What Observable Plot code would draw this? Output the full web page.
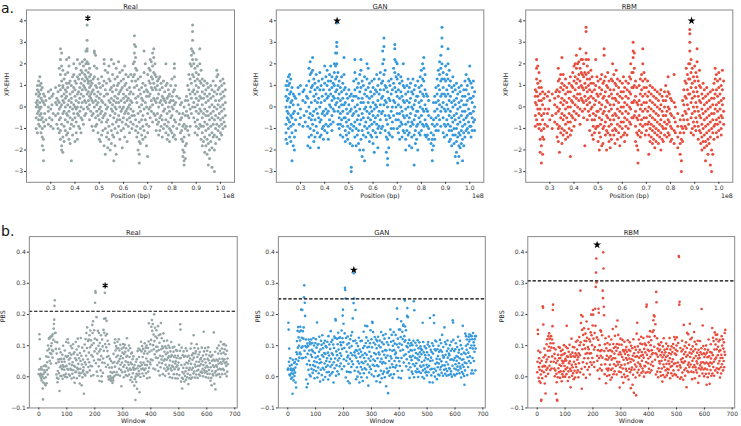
<!DOCTYPE html>
<html><head><meta charset="utf-8">
<script src="https://cdn.jsdelivr.net/npm/d3@7"></script>
<script src="https://cdn.jsdelivr.net/npm/@observablehq/plot@0.6"></script>
<style>
body{margin:0;background:#fff;}
#wrap{position:relative;width:741px;height:426px;overflow:hidden;font-family:"DejaVu Sans",sans-serif;background:#fff;}
.p{position:absolute;}
.lab{position:absolute;font-size:14px;color:#111;line-height:17px;font-family:"DejaVu Sans",sans-serif;}
</style></head><body><div id="wrap"></div>
<script>
// ---------- DATA ----------
const panelTitles = ["Real", "GAN", "RBM"];
const panelColors = ["#95a5a6", "#3498db", "#e74c3c"];
const posTicks = [0.3e8, 0.4e8, 0.5e8, 0.6e8, 0.7e8, 0.8e8, 0.9e8, 1.0e8];
const xpTicks = [-3, -2, -1, 0, 1, 2, 3, 4];
const windowTicks = [0, 100, 200, 300, 400, 500, 600, 700];
const pbsTicks = [-0.1, 0.0, 0.1, 0.2, 0.3, 0.4];
const pbsThresholds = [0.2106, 0.250, 0.308];
// star markers: [x, y]
const xpStars = [[0.453e8, 4.12], [0.4515e8, 4.0], [0.887e8, 4.0]];
const pbsStars = [[237, 0.293], [237, 0.343], [215, 0.4235]];

// XP-EHH rows: [position (Mb), values x10 ...]
const realXP = [
[24.0,-5,2,6,-10,0],[24.5,3,8,-3,-12,10,1],[25.0,12,5,-2,-8,0,7,-6],[25.5,14,10,-4,2,6,-9,-1],
[26.0,11,0,-6,4,-12,8,-3],[26.5,-14,-18,-5,3,9,-10],[27.0,-25,-20,-7,2,-15,6],[27.5,5,-3,-9,1],
[28.0,-6,3],[29.0,7,-2,-8,0],[29.5,4,-5],[30.0,8,-9,-1],[30.5,1,-6,5],[31.0,-3,6,-10],[32.0,9,-4,2],
[32.5,1,-8,4],[33.0,-3,7,-10,3],[33.5,10,-6,-12,18,2,-1],[34.0,27,22,15,-5,-11,8,0,-15],
[34.5,25,19,12,-8,-18,-20,5,1],[35.0,17,-21,-14,9,-3,3,10],[35.5,13,-9,6,-2,-16,2],[36.0,8,-11,0,4,-6,15],
[36.5,22,11,-3,-13,5,7],[37.0,16,-7,1,-12,9,-4],[37.5,23,19,-15,3,-2,11],[38.0,6,-10,12,0,-17,-5],
[38.5,-25,2,-8,10,4],[39.0,14,-6,7,-1,-13],[39.5,20,9,-3,-9,1,15],[40.0,12,-16,5,0,-5,8],
[40.5,18,-12,3,11,-7,-1],[41.0,22,14,6,-3,-15,0],[41.5,7,-9,13,2,-4],[42.0,20,15,9,4,-2,-10],
[42.5,17,11,-5,6,0,-12],[43.0,21,13,8,2,-6,16],[43.5,19,10,5,-1,-8],[44.0,22,15,9,3,12,-4],
[44.5,26,20,14,8,2,-3,17],[45.0,38,31,27,26,21,13,6,0],[45.5,20,16,11,7,3,12,-1],[46.0,18,9,5,14,1,-6],
[46.5,15,10,4,6,-2,12],[47.0,11,7,3,-4,-9],[47.5,13,2,-3,8,-11],[48.0,26,25,19,14,6,0],
[48.5,24,10,-5,3,-9],[49.0,18,5,-2,-8,9,1],[49.5,7,-4,-12,2,13],[50.0,4,-6,11,-1,-15],
[50.5,9,-3,-16,0,6],[51.0,14,3,-7,-2,-13],[51.5,10,-5,2,-11],[52.0,22,20,12,-18,-4,5],
[52.5,17,8,-22,-10,1,-3],[53.0,11,-1,-14,6,-7],[53.5,16,6,-6,0,-19,-12],[54.0,19,13,3,-9,-15],
[54.5,12,2,-4,8,-20],[55.0,22,9,-1,-11,4,-17],[55.5,15,7,-2,-8,1,-13],[56.0,20,10,3,-5,-14,-25],
[56.5,13,5,-3,-10,-18,0],[57.0,18,8,-1,-7,2,-22],[57.5,14,4,-6,-12,10],[58.0,21,11,2,-4,-9,6],
[58.5,16,7,0,-6,-15],[59.0,12,3,-2,-11,8],[59.5,17,9,-1,-7,-19],[60.0,13,6,0,-5,-10,4],
[60.5,19,10,2,-3,-14],[61.0,11,5,-2,-8,15],[61.5,8,-1,-6,-16,3],[62.0,14,4,-3,-9,0],
[62.5,9,1,-5,-12,6],[63.0,15,7,-1,-7,3],[63.5,12,2,-4,-10],[64.0,20,14,6,-2,-8],
[64.5,33,29,25,21,15,9,-4],[65.0,28,23,18,12,4,-6,-11],[65.5,17,10,2,-9,-14],[66.0,13,5,-3,-12,-20],
[66.5,-26,-22,-16,-7,0,8],[67.0,14,6,-2,-10,-17],[67.5,9,1,-6,-13,4],[68.0,11,3,-4,-9,-15],
[68.5,26,16,7,-1,-11],[69.0,20,10,2,-6,-14],[69.5,8,0,-8,-18,5],[70.0,15,7,-3,-12,-23],
[70.5,12,5,-1,-9,18],[71.0,17,11,6,0,-5,22],[71.5,21,14,9,3,-2],[72.0,25,19,13,8,1,-7],
[72.5,27,23,16,11,4,-3],[73.0,20,15,9,3,-4],[73.5,14,8,2,-6,-11],[74.0,10,4,-3,-8,12],
[74.5,13,6,0,-7,-13],[75.0,8,2,-5,-11,14],[75.5,11,3,-4,-9],[76.0,9,1,-6,-14,5],
[76.5,12,4,-2,-10],[77.0,7,-1,-8,3],[77.5,20,10,2,-6,-12],[78.0,11,4,-3,-9,-15],
[78.5,8,0,-7,-13,5],[79.0,6,-2,-10,-16,2],[79.5,10,3,-5,-11],[80.0,13,5,-4,-12,0],
[80.5,7,-1,-9,-14,3],[81.0,20,18,14,8,1,-6,-13],[81.5,10,2,-7,-15],[82.0,5,-2,-10],
[83.0,4,-3,-8],[83.5,1,-6,-12],[84.0,-5,-11,-15,2],[84.5,-9,-16,-20,-23,-3],
[85.0,-14,-21,-25,-27,-8,0],[85.5,-10,-18,-24,-4,3],[86.0,5,-2,-9,-17],[86.5,10,3,-4,-11],
[87.0,15,8,1,-5,-13],[87.5,20,13,6,-1,-9],[88.0,27,24,19,11,4,-3],[88.5,38,35,31,26,22,15,7,0],
[89.0,25,20,14,8,2,-5],[89.5,18,12,6,0,-7,-12],[90.0,22,16,10,4,-2,-9],[90.5,19,13,7,1,-6,-13],
[91.0,15,9,3,-3,-10],[91.5,27,20,12,5,-1,-8],[92.0,17,11,4,-2,-9,-15],[92.5,13,7,1,-5,-12,-18],
[93.0,10,4,-3,-9,-16],[93.5,12,6,-1,-7,-14,-21],[94.0,8,2,-4,-11,-18],[94.5,11,5,-2,-8,-15,-22],
[95.0,9,3,-4,-10,-17,-27],[95.5,6,0,-6,-13,-20,-24],[96.0,10,4,-3,-9,-16],[96.5,8,1,-5,-12,-19,-28],
[97.0,12,5,-2,-8,-14],[97.5,7,0,-6,-13,-30,-20],[98.0,10,3,-4,-10,-17],[98.5,17,14,6,-1,-8,-14],
[99.0,15,8,1,-5,-11],[99.5,9,3,-3,-9,-15],[100.0,12,6,0,-6,-12],[100.5,10,4,-2,-8,-13],
[101.0,13,7,1,-5,-10],[101.5,11,5,-1,-7],[102.0,8,2,-4,-9]
];
const ganXP = [
[24.0,-15,-8,0,5,10,-12],[24.5,-17,-5,3,8,-2,12],[25.0,10,4,-3,-10,14,-6],[25.5,15,11,6,0,-7,-14],
[26.0,13,7,2,-4,-9,-16],[26.5,-25,-12,-5,3,9],[27.0,-18,-8,1,6,-3],[27.5,-20,-14,-2,5],
[28.0,4,-6,-11],[29.0,9,-3,1],[29.5,-8,6],[30.0,10,-1,-5],[31.0,7,-9,3],[31.5,-4,8],[32.0,2,-7],
[32.5,10,-2,5],[33.0,-18,-9,4],[33.5,18,12,-5,0,-14],[34.0,21,15,7,-3,-10,-19],[34.5,16,9,2,-6,-13],
[35.0,23,17,10,-4,-8],[35.5,13,5,-2,-11,-16],[36.0,11,3,-6,-14,8],[36.5,15,6,-1,-9],
[37.0,9,-3,-12,2],[37.5,12,4,-5,-19],[38.0,16,8,0,-7,-14],[38.5,10,2,-6,-13],[39.0,13,5,-3,-10],
[39.5,8,-2,-9,-15],[40.0,19,11,3,-4,-11],[40.5,14,6,-1,-8],[41.0,17,10,4,-3,-12],
[41.5,12,5,-2,-9,-15],[42.0,15,8,1,-6],[42.5,19,12,6,0,-8],[43.0,14,9,3,-4,-11],[43.5,11,5,-1,-7],
[44.0,20,16,10,4,-2],[44.5,25,19,13,7,1],[45.0,39,30,28,25,20,14,8,2],[45.5,16,10,4,-2,-8],
[46.0,12,6,0,-5,-10],[46.5,9,3,-3,-8,-13],[47.0,14,7,1,-6],[47.5,11,4,-2,-9,-14],
[48.0,23,15,8,1,-5],[48.5,9,2,-5,-11,-16],[49.0,6,-1,-7,-13],[49.5,4,-3,-9,-15],[50.0,8,1,-6,-12],
[50.5,5,-2,-10,-17],[51.0,-28,-30,-8,-1,6],[51.5,3,-4,-11,-18],[52.0,12,5,-3,-9],
[52.5,22,16,8,0,-7,-14],[53.0,13,5,-2,-10,-18],[53.5,9,1,-6,-13],[54.0,11,4,-4,-11,-17],
[54.5,15,7,-1,-8,-20],[55.0,22,17,9,2,-6,-15],[55.5,12,4,-3,-11,-23],[56.0,10,2,-5,-13,-20],
[56.5,14,6,-1,-9,-25],[57.0,8,0,-7,-14],[57.5,20,13,5,-2,-10],[58.0,18,9,2,-5,-12],
[58.5,11,4,-3,-9,-16],[59.0,7,0,-6,-13],[59.5,12,5,-2,-8,-14],[60.0,9,2,-4,-11,-17],
[60.5,13,6,-1,-7,-21],[61.0,8,1,-5,-12],[61.5,15,7,0,-8,-14],[62.0,10,3,-4,-10,-19],
[62.5,13,6,-2,-9],[63.0,16,8,1,-6,-12],[63.5,11,4,-3,-10],[64.0,26,20,12,5,-2,-9],
[64.5,32,28,22,15,8,1],[65.0,17,10,3,-4,-11],[65.5,9,2,-6,-14,-21],[66.0,-27,-24,-15,-8,0,7],
[66.5,12,4,-4,-12,-19],[67.0,10,3,-5,-13],[67.5,13,6,-2,-10],[68.0,8,0,-7,-14],
[68.5,18,11,3,-4,-10],[69.0,29,27,22,16,9,2],[69.5,21,14,7,0,-6],[70.0,20,13,5,-3,-10],
[70.5,15,8,1,-6,-12],[71.0,11,4,-3,-9,-15],[71.5,14,7,0,-7],[72.0,12,5,-2,-8,-14],
[72.5,20,10,3,-4,-11],[73.0,9,2,-5,-12],[73.5,6,-1,-8,-15,-20],[74.0,10,3,-4,-11],
[74.5,13,7,0,-7,-13],[75.0,9,2,-5,-12,-18],[75.5,11,4,-3,-9],[76.0,7,0,-7,-14,-19],
[76.5,13,6,-1,-8],[77.0,8,1,-6,-13,-27],[77.5,10,3,-4,-11,-17],[78.0,5,-2,-9,-15],
[78.5,12,5,-2,-8,-20],[79.0,9,2,-5,-12],[79.5,14,7,0,-7,-13],[80.0,17,10,3,-4,-11],
[80.5,20,13,6,-1,-8],[81.0,23,18,12,5,-2,-9],[81.5,15,8,1,-6,-13],[82.0,6,-1,-8,-14],
[82.5,5,-2,-9,-13],[83.0,3,-4,-10,-15],[84.0,-5,-12,-17],[84.5,-8,-15,-25,-20],[85.0,2,-6,-13,-18],
[85.5,5,-2,-9,-15],[86.0,9,2,-5,-11],[86.5,13,6,-1,-8],[87.0,17,10,3,-4,-11],[87.5,21,15,8,1,-6],
[88.0,24,18,12,5,-2,-9],[88.5,37,32,28,20,13,6,0],[89.0,16,9,2,-5,-12],[89.5,13,6,-1,-8,-14],
[90.0,19,12,5,-2,-9],[90.5,15,8,1,-6,-13],[91.0,27,20,13,6,-1,-8],[91.5,17,10,3,-4,-11,-16],
[92.0,12,5,-2,-9,-15],[92.5,9,2,-5,-11,-18],[93.0,14,7,0,-7,-13],[93.5,10,3,-4,-10,-17],
[94.0,8,1,-6,-13,-23],[94.5,11,4,-3,-10,-16,-21],[95.0,6,-1,-8,-14,-26],[95.5,9,2,-5,-12,-18,-23],
[96.0,7,0,-7,-13,-19],[96.5,10,3,-4,-11,-17],[97.0,5,-2,-9,-15,-25],[97.5,8,1,-6,-12,-18],
[98.0,12,5,-2,-8,-14],[98.5,15,8,1,-5,-11],[99.0,10,3,-4,-10],[99.5,13,6,-1,-7,-12],
[100.0,19,12,4,-3,-9],[100.5,11,4,-3,-9,-14],[101.0,9,2,-5,-11],[101.5,12,5,-2,-7],[102.0,7,0,-6,-11]
];
const rbmXP = [
[24.0,8,2,-4,-9,5],[24.5,22,18,13,7,1,-6],[25.0,19,11,5,-1,-8],[25.5,16,9,3,-3,-10],
[26.0,12,6,-1,-8,-15,-21],[26.5,-26,-18,-11,-4,3,9],[27.0,-22,-14,-6,1,7],[27.5,4,-3,-10,-15],
[28.0,6,-1,-8],[29.0,5,-3,-9],[29.5,7,-1],[30.0,-6,3],[31.0,6,-4,-10],[32.0,4,-7,1],[32.5,-3,7],
[33.0,8,0,-8,-14],[33.5,18,12,5,-2,-10,-16],[34.0,13,7,-1,-9,-21],[34.5,15,9,2,-5,-12],
[35.0,23,11,4,-3,-10,-17],[35.5,15,8,1,-6,-13],[36.0,10,3,-4,-11],[36.5,13,6,-1,-8,-15],
[37.0,9,2,-5,-12],[37.5,7,0,-7,-14],[38.0,11,4,-3,-10],[38.5,14,7,0,-7,-13,-23],[39.0,10,3,-4,-11],
[39.5,16,9,2,-5],[40.0,19,12,5,-2,-9],[40.5,20,14,8,1,-6],[41.0,24,18,11,4,-3],[41.5,20,13,6,0],
[42.0,21,15,9,3,-4],[42.5,27,18,12,6,-1,-8],[43.0,22,16,10,4],[43.5,22,15,9,3,-2],
[44.0,20,14,8,2,-5],[44.5,16,11,5,-1,-18],[45.0,37,35,25,22,15,9,3],[45.5,19,13,7,1,-6],
[46.0,22,16,10,4,-2],[46.5,13,8,2,-4,-11],[47.0,17,11,5,-1],[47.5,14,7,0,-6,-13],
[48.0,11,4,-3,-9,-15],[48.5,8,1,-6,-12],[49.0,22,10,3,-4,-10],[49.5,14,6,-2,-9],
[50.0,12,5,-2,-9,-16],[50.5,9,2,-5,-12,-20],[51.0,13,6,-1,-8,-14],[51.5,15,8,1,-6,-18],
[52.0,11,4,-3,-10,-17],[52.5,27,24,12,5,-2,-9],[53.0,14,7,0,-7,-13],[53.5,10,3,-4,-11,-20],
[54.0,16,9,2,-5,-12],[54.5,12,5,-2,-9,-16],[55.0,8,1,-6,-13,-19],[55.5,13,6,-1,-8,-15],
[56.0,20,12,4,-4,-11],[56.5,15,8,1,-6,-13],[57.0,11,4,-3,-10,-17],[57.5,17,10,3,-4,-11],
[58.0,13,6,-1,-8,-15],[58.5,9,2,-5,-12],[59.0,12,5,-2,-9,-18],[59.5,7,0,-7,-14],
[60.0,11,4,-3,-10],[60.5,14,7,0,-7,-13],[61.0,9,2,-5,-12,-16],[61.5,12,5,-2,-9],
[62.0,8,1,-6,-13],[62.5,11,4,-3,-10],[63.0,14,7,0,-7],[63.5,20,13,6,-1,-8],[64.0,16,9,2,-5],
[64.5,30,26,23,16,9,2,-5],[65.0,25,18,10,3,-4],[65.5,12,5,-2,-9,-16],[66.0,9,2,-5,-12,-18],
[66.5,-26,-20,-13,-6,1],[67.0,10,3,-4,-11],[67.5,13,6,-1,-8,-14],[68.0,15,8,1,-6,-12],
[68.5,27,20,12,5,-2,-9],[69.0,16,9,2,-5],[69.5,13,6,-1,-8,-13],[70.0,9,2,-5,-11],
[70.5,12,5,-2,-8],[71.0,7,0,-7,-13,-22],[71.5,10,3,-4,-10,-16],[72.0,6,-1,-8,-14],
[72.5,9,2,-5,-11,-17],[73.0,5,-2,-9,-15],[73.5,8,1,-6,-12,-19],[74.0,4,-3,-10,-16],
[74.5,7,0,-7,-13],[75.0,3,-4,-11,-17],[75.5,6,-1,-8,-14],[76.0,8,1,-6,-12,-20],
[76.5,5,-2,-9,-15],[77.0,3,-4,-10,-16],[77.5,7,0,-7,-13],[78.0,10,3,-4,-10],[78.5,5,-2,-8,-14],
[79.0,14,7,0,-6,-12],[79.5,6,-1,-7,-13],[80.0,4,-3,-9,-16],[80.5,3,-4,-10,-15],[81.5,15,2,-5,-11,-17],
[82.0,0,-7,-12],[83.0,-3,-9,-14,-19],[84.0,-6,-12,-17,-22],[84.5,-9,-15,-30,-25],[85.0,-4,-10,-16,3],
[85.5,1,-6,-12,8],[86.0,12,5,-2,-9],[86.5,18,11,4,-3,-10],[87.0,15,8,1,-6],[87.5,20,13,6,-1,-8],
[88.0,36,34,30,26,20,13,6],[88.5,22,16,9,2,-5,-12],[89.0,18,11,4,-3,-10],[89.5,14,7,0,-7,-13],
[90.0,19,12,5,-2,-9],[90.5,16,9,2,-5,-11],[91.0,27,21,14,7,0,-7],[91.5,12,5,-2,-9,-15],
[92.0,17,10,3,-4,-11],[92.5,9,2,-5,-12,-17],[93.0,6,-1,-8,-14,-20],[93.5,11,4,-3,-10,-16],
[94.0,8,1,-6,-13,-19],[94.5,5,-2,-9,-16,-25],[95.0,9,2,-5,-12,-18],[95.5,6,-1,-8,-15,-22],
[96.0,3,-4,-11,-17],[96.5,7,0,-7,-14,-27],[97.0,4,-3,-10,-20,-30],[97.5,8,1,-6,-12,-22],
[98.0,11,4,-3,-9,-15],[98.5,18,13,6,-1,-8],[99.0,15,8,1,-6,-12],[99.5,12,5,-2,-8,-14],
[100.0,16,9,2,-5,-11],[100.5,13,6,-1,-7],[101.0,10,3,-4,-10,-13],[101.5,17,8,1,-5],[102.0,12,4,-2,-8]
];

// PBS per window: hundredths (window index = position in array)
const realPBS = [
1,2,14,12,6,0,2,1,0,3,-1,1,2,0,-4,-7,-2,1,3,0,
2,-2,1,4,-3,0,3,7,-2,2,5,8,1,10,6,3,12,9,13,5,
8,12,13,4,10,7,11,13,9,6,14,8,12,15,17,18,23,25,14,11,
14,9,4,1,7,0,11,-2,2,6,-1,5,1,9,-5,6,3,0,8,4,
6,0,5,2,7,-1,4,10,3,1,6,2,5,8,0,3,7,1,11,4,
6,0,3,12,7,2,11,5,1,4,8,0,6,3,10,2,7,-1,4,9,
1,5,10,2,7,0,4,8,-2,3,6,1,11,2,5,9,0,3,7,12,
2,4,10,1,6,0,-2,8,3,5,12,1,7,-3,4,9,0,2,6,2,
3,-5,8,1,10,5,0,12,4,7,14,2,9,16,1,6,11,3,12,8,
5,13,2,9,15,4,12,0,7,10,3,17,14,6,18,1,11,5,15,8,
12,24,28,27,4,9,19,2,12,7,0,15,6,10,3,14,8,-1,11,5,
9,2,13,7,0,-2,12,5,10,1,6,15,8,19,14,4,27,11,19,13,
3,9,18,6,14,8,12,4,0,7,-1,10,3,-1,6,0,2,-1,5,0,
-1,3,1,-2,4,0,-1,7,2,0,5,11,3,12,8,1,10,6,2,9,
4,11,7,1,9,5,12,3,8,6,0,10,4,7,2,-3,9,5,1,8,
6,11,3,9,0,7,4,10,2,8,5,1,9,6,3,12,7,0,5,2,
8,4,10,1,6,3,9,-1,5,2,7,0,4,8,-2,6,1,3,7,2,
3,-3,4,-1,2,-7,0,5,-2,1,6,-4,3,8,0,4,9,2,6,1,
-5,3,9,0,5,11,2,8,4,10,1,6,3,9,5,0,7,2,11,4,
8,3,9,1,6,10,4,0,7,5,9,2,11,17,3,8,0,5,10,4,
6,12,16,8,18,15,5,17,10,3,14,9,20,11,7,16,2,13,6,10,
15,8,12,4,10,6,16,2,9,13,5,11,0,7,14,3,17,9,6,12,
4,10,7,1,9,14,5,11,3,8,6,0,10,4,7,2,9,5,12,3,
8,2,6,10,1,7,4,9,0,5,8,3,6,11,2,7,4,0,9,5,
3,8,1,6,10,2,7,4,0,5,9,3,6,1,8,4,-1,7,2,5,
3,10,1,6,8,17,15,6,-2,4,9,0,-4,2,7,-1,3,8,1,6,
-2,4,0,7,2,9,-1,5,3,8,0,6,1,4,-2,7,2,5,0,3,
6,1,9,-1,4,11,2,7,0,5,3,8,1,13,6,2,9,4,0,7,
3,8,1,5,10,2,6,0,4,9,2,7,1,5,3,8,0,6,2,4,
6,2,9,1,5,3,7,0,4,14,8,2,6,1,9,3,5,0,7,2,
4,8,1,6,3,9,0,5,2,7,1,4,8,-1,3,6,0,-3,5,2,
7,1,4,0,6,14,3,-2,5,1,8,-4,2,4,0,6,3,9,1,5,
2,7,4,10,1,6,3,8,0,5,11,2,7,4,9,1,6,3,10,5,
8,2,11,6,9,4,1,7,10,3,5,0,8,2,6,4
];
const ganPBS = [
2,3,17,15,5,9,1,4,0,6,2,3,-1,1,4,2,0,-5,5,1,
3,-1,2,4,0,5,1,3,-2,6,-3,8,4,11,7,15,9,16,5,13,
10,6,14,8,12,16,7,15,22,9,13,6,21,10,15,6,12,16,26,29,
8,24,20,10,6,12,-1,9,-3,4,11,7,-2,10,2,12,5,8,1,11,
4,10,0,7,12,3,9,6,11,1,8,4,12,2,10,5,0,8,3,11,
6,12,2,9,5,17,0,10,7,3,11,1,8,13,4,6,-2,9,2,12,
5,10,1,7,13,3,9,-1,6,11,2,8,4,12,0,7,10,3,5,9,
1,6,11,4,8,-1,13,2,7,10,5,0,9,3,15,6,11,1,8,4,
12,2,7,10,-2,5,9,13,3,12,6,19,18,0,8,4,12,7,2,10,
5,14,9,1,12,6,3,13,8,11,4,10,7,15,2,9,12,20,22,11,
17,6,3,9,14,29,28,25,0,12,5,8,2,10,6,13,-1,7,4,11,
2,9,-2,6,12,1,8,13,3,10,5,14,7,19,4,11,24,33,25,8,
2,7,12,21,9,-1,6,11,3,8,0,5,10,2,7,13,4,-2,9,1,
6,11,3,8,0,5,12,2,7,-1,9,4,14,1,6,10,3,8,16,5,
11,2,13,7,0,16,9,4,12,-3,6,10,1,8,3,11,5,15,2,7,
12,1,9,18,17,4,14,6,11,0,8,3,13,5,10,2,7,12,-1,9,
4,11,6,0,13,3,8,10,1,7,12,-2,5,9,2,14,6,0,11,4,
8,1,13,5,10,2,7,12,0,9,4,14,6,-3,8,3,11,1,7,2,
-5,10,2,12,5,0,9,3,15,7,1,11,6,13,4,8,0,10,3,12,
14,1,9,5,11,7,3,13,8,6,4,10,22,19,2,12,6,9,0,15,
5,11,3,15,8,13,0,18,6,10,2,14,12,9,16,17,5,7,13,11,
24,16,12,7,15,3,10,6,20,22,9,19,11,2,8,4,12,0,7,10,
3,9,6,11,5,2,8,10,1,7,4,12,24,0,21,9,3,6,11,2,
8,4,10,1,6,3,12,7,0,9,5,2,11,6,8,4,10,1,9,3,
7,5,9,0,17,2,11,4,8,-1,5,10,3,7,1,6,9,2,4,0,
8,3,10,6,11,1,7,4,10,-2,19,5,2,9,6,0,8,3,11,5,
-2,7,10,1,20,17,3,9,0,12,4,8,2,11,6,-1,5,9,3,7,
1,10,4,8,0,6,12,2,9,3,11,5,1,8,13,4,7,0,10,6,
6,2,16,4,11,1,7,3,10,5,0,8,2,12,6,4,9,1,7,3,
7,3,10,5,1,8,2,11,6,0,9,4,18,17,12,5,1,8,3,6,
0,9,4,11,2,7,5,1,10,3,6,13,2,8,4,9,1,6,12,3,
3,10,0,7,5,2,9,4,16,1,6,3,8,0,-3,5,2,14,7,10,
13,4,9,12,1,6,10,3,8,13,5,11,14,12,7,9,4,13,1,10,
13,2,12,6,9,14,1,11,5,10,8,12,13,2,9,13
];
const rbmPBS = [
1,5,15,14,8,0,3,6,-1,2,4,8,-2,1,-8,-7,5,2,0,3,
23,22,17,6,1,4,9,-2,3,7,-5,0,5,2,10,6,12,3,8,1,
13,6,10,14,4,12,8,2,11,5,13,9,3,12,7,16,21,23,11,5,
9,3,7,0,6,2,9,-5,4,1,-2,-7,-8,5,0,7,3,10,1,6,
4,9,0,6,2,8,3,7,-1,5,1,9,4,0,7,2,10,5,3,8,
0,6,2,10,5,1,16,7,3,9,-1,6,2,8,4,0,10,5,3,7,
-3,6,2,12,4,0,8,3,10,1,7,-1,5,9,2,6,0,8,4,11,
3,7,1,9,5,12,2,6,0,8,4,13,10,7,1,28,11,17,20,3,
-4,15,9,19,5,13,1,10,16,6,12,3,9,14,7,0,11,18,4,13,
8,2,10,6,15,9,3,12,7,1,11,5,14,8,20,13,4,10,6,16,
21,20,12,5,9,3,14,10,22,16,29,33,38,30,13,7,5,2,9,12,
22,21,6,-1,10,3,8,15,7,14,4,9,2,13,6,28,25,40,35,22,
20,8,1,10,4,12,6,-2,9,3,7,0,11,5,2,8,3,13,6,1,
10,4,9,-1,7,2,12,5,0,8,3,15,6,11,1,9,4,7,2,13,
6,10,3,16,8,1,11,5,18,9,4,13,7,2,10,5,-3,8,3,12,
1,7,4,10,0,6,12,3,9,-2,5,8,1,11,4,7,0,9,3,6,
10,2,8,5,0,12,4,7,-1,9,3,6,11,1,8,5,-4,10,2,6,
3,9,-3,7,1,12,5,-5,8,2,10,4,6,0,9,-6,3,14,7,17,
1,10,5,8,2,12,6,0,9,4,11,3,7,13,1,8,5,10,3,7,
2,12,6,0,9,4,11,3,8,1,10,5,22,23,7,13,2,9,4,6,
11,3,8,13,1,15,6,10,4,12,2,9,7,5,14,8,3,18,15,20,
10,19,13,5,17,8,1,27,24,7,12,2,9,6,0,11,3,8,5,10,
4,9,2,7,0,11,5,3,8,-2,6,10,1,4,12,7,3,9,0,5,
8,2,6,11,4,0,9,3,7,1,10,5,2,8,4,12,6,0,9,3,
7,1,10,5,3,8,0,6,11,2,9,4,13,1,7,12,4,9,1,7,
10,13,3,8,0,5,11,2,39,38,23,24,4,-1,9,3,6,0,8,5,
12,1,6,9,-1,4,17,7,2,10,5,0,8,3,11,6,-3,9,14,2,
7,4,14,1,5,10,3,8,17,6,12,4,9,2,7,13,-1,5,10,3,
8,1,6,14,4,11,0,9,3,7,2,10,5,1,8,4,12,6,-2,9,
3,7,0,6,11,4,8,2,5,9,22,3,7,1,16,5,10,2,8,0,
6,4,9,3,7,1,10,5,-3,8,2,6,0,9,4,12,1,7,3,-2,
8,5,2,10,6,0,8,4,16,1,7,13,3,11,5,0,9,14,6,2,
10,13,6,12,9,3,14,1,7,10,4,11,2,8,5,12,0,9,6,3,
1,7,13,4,10,6,12,2,9,5,11,3,8,14,7,15
];
// PBS third decimal (thousandths digit per window)
const realPBSmilli =
"38152794063185726490529173804619258374061947382506173948205764829157308264915730" +
"27395814602739581460830517492618403759264196820357496182035796274831059627483105" +
"50738196425073819642185930274681593027467204856139720485613935816940273581694027" +
"69482703516948270351247591380624759138068731645092873164509240693827154069382715" +
"93528164079352816407162790538416279053845814079623581407962371863520947186352094" +
"03597284610359728461469215730804921573088203746915182374691529654018376296540183" +
"65381927040653819270170483659281704836599471265038394712650330586174293058617429" +
"76239481057623948105518740362965187403620842591763484259176343190762585431907625" +
"896532084178965320842601384759268135";
const ganPBSmilli =
"71863520947186352094035972846103597284614692157308049215730882037469151823746915" +
"29654018376296540183653819270406538192701704836592817048365994712650383947126503" +
"30586174293058617429762394810576239481055187403629651874036208425917634842591763" +
"43190762585431907625896532084178965320843815279406318572649052917380461925837406" +
"19473825061739482057648291573082649157302739581460273958146083051749261840375926" +
"41968203574961820357962748310596274831055073819642507381964218593027468159302746" +
"72048561397204856139358169402735816940276948270351694827035124759138062475913806" +
"87316450928731645092406938271540693827159352816407935281640716279053841627905384" +
"581407962358140796";
const rbmPBSmilli =
"93528164079352816407162790538416279053845814079623581407962371863520947186352094" +
"38152794063185726490529173804619258374061947382506173948205764829157308264915730" +
"65381927040653819270170483659281704836599471265038394712650330586174293058617429" +
"27395814602739581460830517492618403759264196820357496182035796274831059627483105" +
"03597284610359728461469215730804921573088203746915182374691529654018376296540183" +
"50738196425073819642185930274681593027467204856139720485613935816940273581694027" +
"76239481057623948105518740362965187403620842591763484259176343190762585431907625" +
"69482703516948270351247591380624759138068731645092873164509240693827154069382715" +
"896532084178965320";

// ---------- BUILD ----------
const minus = s => s.replace(/-/g, "\u2212");
const fmtPos = d => (d / 1e8).toFixed(1);
const fmtInt = d => minus(String(d));
const fmtPbs = d => minus(d3.format(".1f")(d));

function xpRows(rows) {
  return rows.flatMap(([p, ...vals]) => vals.map(v => ({x: p * 1e6, y: v / 10})));
}
function pbsRows(vals, milli) {
  return vals.map((v, i) => ({x: i, y: v / 100 + (Number(milli[i] ?? 5) - 4.5) / 1000}));
}

const wrap = document.getElementById("wrap");

function panel(o) {
  const marks = [];
  marks.push(Plot.dot(o.data, {x: "x", y: "y", r: o.r, fill: o.color, stroke: "none"}));
  if (o.hline != null) marks.push(Plot.ruleY([o.hline], {stroke: "#000", strokeWidth: 1.1, strokeDasharray: "3.4,1.8"}));
  if (o.asterisk) {
    marks.push(Plot.dot([o.star], {x: d => d[0], y: d => d[1], symbol: "asterisk", r: 2.7, stroke: "#000", strokeWidth: 1.2, fill: "none"}));
  } else {
    marks.push(Plot.dot([o.star], {x: d => d[0], y: d => d[1], symbol: "star", r: 2.5, fill: "#000", stroke: "none"}));
  }
  marks.push(Plot.frame({stroke: "#8a8a8a", strokeWidth: 1}));
  marks.push(Plot.axisX({ticks: o.xTicks, tickFormat: o.xFmt, tickSize: 2, tickPadding: 1.5, fontSize: o.tfs, color: "#333", label: null}));
  marks.push(Plot.axisY({ticks: o.yTicks, tickFormat: o.yFmt, tickSize: 2, tickPadding: 1.5, fontSize: o.tfs, color: "#333", label: null}));
  marks.push(Plot.text([o.title], {frameAnchor: "top", dy: o.titleDy, fontSize: 6.8, fill: "#222"}));
  marks.push(Plot.text([o.xLabel], {frameAnchor: "bottom", dy: o.xLabDy, fontSize: 6.3, fill: "#222"}));
  marks.push(Plot.text([o.yLabel], {frameAnchor: "left", dx: o.yLabDx, rotate: -90, fontSize: 6.3, fill: "#222"}));
  if (o.offsetText) marks.push(Plot.text([o.offsetText], {frameAnchor: "bottom-right", dy: o.xLabDy, textAnchor: "end", fontSize: 6.3, fill: "#222"}));
  const chart = Plot.plot({
    width: o.width, height: o.height,
    marginLeft: o.ml, marginRight: o.mr, marginTop: o.mt, marginBottom: o.mb,
    x: {domain: o.xDomain}, y: {domain: o.yDomain},
    style: {fontFamily: "DejaVu Sans", fontSize: "6px", color: "#333", background: "transparent", overflow: "visible"},
    marks
  });
  const div = document.createElement("div");
  div.className = "p";
  div.style.left = o.left + "px";
  div.style.top = o.top + "px";
  div.appendChild(chart);
  wrap.appendChild(div);
}

const xpData = [realXP, ganXP, rbmXP];
const pbsData = [realPBS, ganPBS, rbmPBS];
const pbsMilli = [realPBSmilli, ganPBSmilli, rbmPBSmilli];
const topCols = [{left: 0, ml: 26, mr: 13}, {left: 247, ml: 28.8, mr: 10.7}, {left: 494, ml: 31.2, mr: 8.7}];
const botCols = [{left: 0, ml: 28.85, mr: 10.25, yd: -26}, {left: 247, ml: 30.9, mr: 9.2, yd: -20}, {left: 494, ml: 33.3, mr: 6.8, yd: -25.5}];

for (let i = 0; i < 3; i++) {
  panel({
    data: xpRows(xpData[i]), color: panelColors[i], title: panelTitles[i], r: 1.5,
    left: topCols[i].left, top: 0, width: 247, height: 210,
    ml: topCols[i].ml, mr: topCols[i].mr, mt: 9.5, mb: 28.2,
    xDomain: [0.2e8, 1.058e8], yDomain: [-3.5, 4.5],
    xTicks: posTicks, yTicks: xpTicks, xFmt: fmtPos, yFmt: fmtInt, tfs: 6,
    xLabel: "Position (bp)", yLabel: "XP-EHH", offsetText: "1e8",
    titleDy: -5.5, xLabDy: 15.5, yLabDx: -20,
    star: xpStars[i], asterisk: i === 0
  });
  panel({
    data: pbsRows(pbsData[i], pbsMilli[i]), color: panelColors[i], title: panelTitles[i], r: 1.3,
    left: botCols[i].left, top: 212, width: 247, height: 214,
    ml: botCols[i].ml, mr: botCols[i].mr, mt: 24.1, mb: 18.55,
    xDomain: [-33.75, 708.75], yDomain: [-0.1, 0.45],
    xTicks: windowTicks, yTicks: pbsTicks, xFmt: fmtInt, yFmt: fmtPbs, tfs: 6,
    xLabel: "Window", yLabel: "PBS",
    titleDy: -6.5, xLabDy: 15.2, yLabDx: botCols[i].yd,
    hline: pbsThresholds[i], star: pbsStars[i], asterisk: i === 0
  });
}

// panel letters: line box placed so the glyph baseline sits near y=11.5 / y=236
const la = document.createElement("div");
la.className = "lab"; la.textContent = "a."; la.style.left = "1px"; la.style.top = "0px";
wrap.appendChild(la);
const lb = document.createElement("div");
lb.className = "lab"; lb.textContent = "b."; lb.style.left = "1px"; lb.style.top = "223px";
wrap.appendChild(lb);
</script>
</body></html>
